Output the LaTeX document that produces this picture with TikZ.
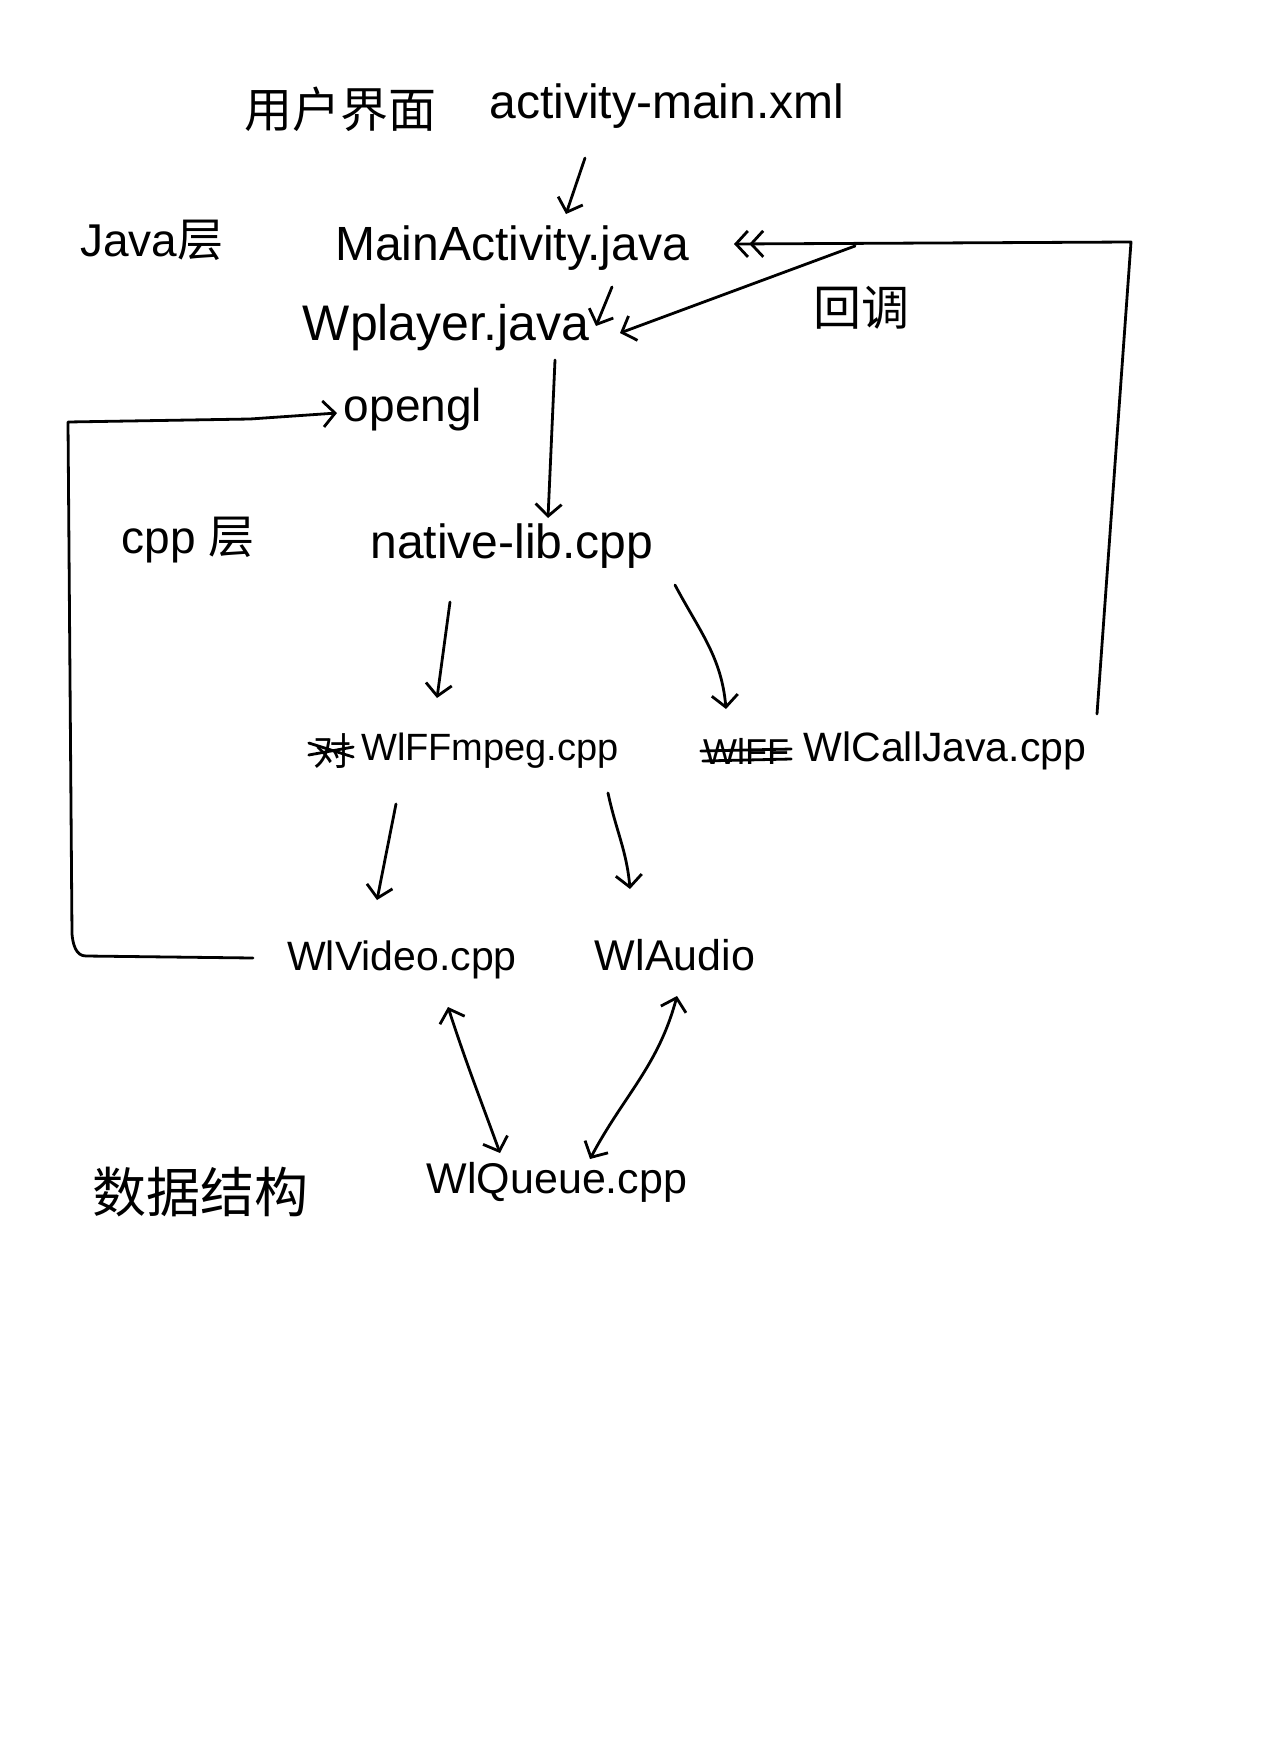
\documentclass[tikz,border=0pt]{standalone}
\usepackage{fontspec}
\setmainfont{Liberation Sans}
\newfontfamily\cjk{Noto Sans CJK SC}
\usetikzlibrary{arrows.meta,calc}
\tikzset{
  lbl/.style={inner sep=0pt, font=\fontsize{#1pt}{#1pt}\selectfont},
  lbl/.default=44,
  cjklbl/.style={inner sep=0pt, font=\cjk\fontsize{#1pt}{#1pt}\selectfont},
  cjklbl/.default=48,
  arr/.style={line width=2.8pt, line cap=round, line join=round,
    -{Straight Barb[length=12pt,width=26pt]}},
  darr/.style={line width=2.8pt, line cap=round, line join=round,
    {Straight Barb[length=12pt,width=26pt]}-{Straight Barb[length=12pt,width=26pt]}},
  plain/.style={line width=2.8pt, line cap=round, line join=round},
  scrib/.style={line width=2.8pt, line cap=round}
}
\begin{document}
\begin{tikzpicture}[x=1pt,y=-1pt]
\useasboundingbox[fill=white] (0,0) rectangle (1268,1764);

% labels
\node[cjklbl=48] (ui) at (340,109) {用户界面};
\node[lbl=48] (xml) at (667,106) {activity-main.xml};
\node[lbl=46] (javal) at (152,240) {Java{\cjk 层}};
\node[lbl=48] (main) at (512,248) {MainActivity.java};
\node[lbl=50] (wplayer) at (446,328) {Wplayer.java};
\node[lbl=46] (opengl) at (413,410) {opengl};
\node[lbl=46] (cppl) at (188,540) {cpp {\cjk 层}};
\node[lbl=48] (native) at (512,546) {native-lib.cpp};
\node[cjklbl=38] (strikeA) at (332,751) {对};
\node[lbl=38] (ffmpeg) at (490,751) {WlFFmpeg.cpp};
\node[lbl=36] (strikeB) at (746,751) {WlFF};
\node[lbl=41] (calljava) at (945,751) {WlCallJava.cpp};
\node[lbl=41] (video) at (402,960) {WlVideo.cpp};
\node[lbl=43] (audio) at (675,955) {WlAudio};
\node[cjklbl=54] (ds) at (200,1192) {数据结构};
\node[lbl=43] (queue) at (557,1182) {WlQueue.cpp};
\node[cjklbl=48] (cb) at (861,308) {回调};

% cross-outs
\draw[scrib] ($(strikeA.west)+(-4,4)$) -- ($(strikeA.east)+(2,-4)$);
\draw[scrib] ($(strikeA.west)+(-4,-8)$) -- ($(strikeA.east)+(2,6)$);
\draw[scrib] ($(strikeB.west)+(-2,0)$) -- ($(strikeB.east)+(2,-2)$);
\draw[scrib] ($(strikeB.west)+(0,10)$) -- ($(strikeB.east)+(2,8)$);

% coordinates for free corners
\coordinate (cbtop) at (1131,242);
\coordinate (cbsplit) at (855,246);
\coordinate (glbot) at (86,956);
\coordinate (gltop) at (68,422);
\coordinate (glmid) at (250,419);

% connectors
\draw[arr] ($(xml)+(-82,52)$) -- ($(main)+(54,-34)$);
\draw[arr] ($(main)+(100,39)$) -- ($(wplayer)+(150,-2)$);
\draw[plain,-{Straight Barb[length=12pt,width=26pt] Straight Barb[length=12pt,width=26pt]}]
  ($(calljava)+(152,-37)$) -- (cbtop) -- ($(main)+(222,-4)$);
\draw[arr] (cbsplit) -- ($(wplayer)+(174,5)$);
\draw[arr] ($(wplayer)+(109,32)$) -- ($(native)+(36,-28)$);
\draw[arr] ($(video)+(-149,-2)$) -- (glbot) to[out=180,in=-85] ($(gltop)+(4,512)$)
  -- (gltop) -- (glmid) -- ($(opengl)+(-76,3)$);
\draw[arr] ($(native)+(-62,56)$) -- ($(ffmpeg)+(-53,-53)$);
\draw[arr] ($(native)+(163,39)$) to[out=-62,in=95] ($(calljava)+(-219,-42)$);
\draw[arr] ($(ffmpeg)+(-94,53)$) -- ($(video)+(-25,-60)$);
\draw[arr] ($(ffmpeg)+(118,42)$) to[out=-78,in=95] ($(audio)+(-45,-66)$);
\draw[darr] ($(video)+(46,47)$) to[out=-72,in=110] ($(queue)+(-57,-29)$);
\draw[darr] ($(audio)+(2,41)$) to[out=-105,in=62] ($(queue)+(33,-23)$);
\end{tikzpicture}
\end{document}
